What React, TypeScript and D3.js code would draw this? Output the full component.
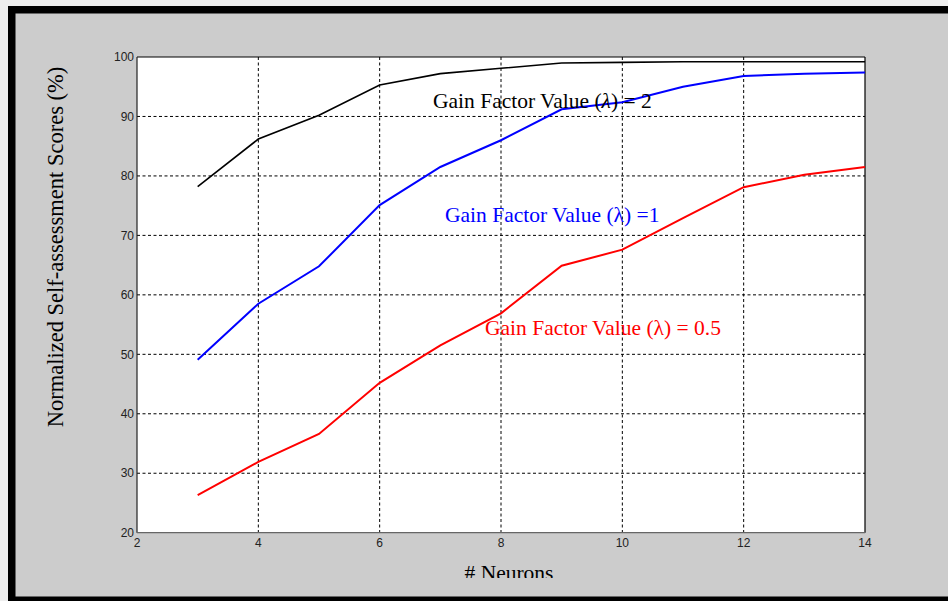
import * as d3 from 'd3';

const neurons = [3, 4, 5, 6, 7, 8, 9, 10, 11, 12, 13, 14];
const gain2 = [78.2, 86.2, 90.2, 95.3, 97.2, 98.1, 99.0, 99.1, 99.2, 99.2, 99.2, 99.2];
const gain1 = [49.1, 58.5, 64.8, 75.1, 81.5, 86.0, 91.2, 92.4, 95.0, 96.8, 97.2, 97.4];
const gain05 = [26.3, 31.9, 36.6, 45.2, 51.5, 56.9, 64.9, 67.6, 72.9, 78.1, 80.2, 81.5];
const xTicks = [2, 4, 6, 8, 10, 12, 14];
const yTicks = [20, 30, 40, 50, 60, 70, 80, 90, 100];

const W = 948;
const H = 601;
const plot = { left: 137, right: 865, top: 57, bottom: 532.7 };
const serif = '"Liberation Serif", "Times New Roman", serif';
const sans = '"Liberation Sans", Arial, sans-serif';

export default function App() {
  const x = d3.scaleLinear().domain([2, 14]).range([plot.left, plot.right]);
  const y = d3.scaleLinear().domain([20, 100]).range([plot.bottom, plot.top]);
  const line = d3.line<number>().x((_, i) => x(neurons[i])).y(d => y(d));

  const series = [
    { values: gain2, color: '#000000', width: 1.6 },
    { values: gain1, color: '#0000ff', width: 2 },
    { values: gain05, color: '#ff0000', width: 2 },
  ];

  return (
    <>
      <style>{'body{margin:0}'}</style>
      <svg width={W} height={H} style={{ display: 'block' }}>
        <defs>
          <clipPath id="xlabClip">
            <rect x={0} y={0} width={W} height={578} />
          </clipPath>
        </defs>
        <rect x={0} y={0} width={W} height={H} fill="#eeeeee" />
        <rect x={8} y={6} width={W - 8} height={H - 6} fill="#000" />
        <rect x={15.5} y={13.5} width={W - 15.5} height={596.5 - 13.5} fill="#cccccc" />

        <rect x={plot.left} y={plot.top} width={plot.right - plot.left} height={plot.bottom - plot.top} fill="#fff" />

        {/* grid */}
        {xTicks.slice(1, -1).map(t => (
          <line key={'gx' + t} x1={x(t)} x2={x(t)} y1={plot.top} y2={plot.bottom}
            stroke="#000" strokeWidth={1} strokeDasharray="3,2.5" />
        ))}
        {yTicks.slice(1, -1).map(t => (
          <line key={'gy' + t} x1={plot.left} x2={plot.right} y1={y(t)} y2={y(t)}
            stroke="#000" strokeWidth={1} strokeDasharray="3,2.5" />
        ))}

        {/* box */}
        <line x1={plot.left} x2={plot.right} y1={plot.top} y2={plot.top} stroke="#000" strokeWidth={1.2} />
        <line x1={plot.right} x2={plot.right} y1={plot.top} y2={plot.bottom} stroke="#000" strokeWidth={1.2} />
        <line x1={plot.left} x2={plot.left} y1={plot.top} y2={plot.bottom} stroke="#222" strokeWidth={1.2} />
        <line x1={plot.left} x2={plot.right} y1={plot.bottom} y2={plot.bottom} stroke="#666" strokeWidth={1.2} />

        {series.map((s, i) => (
          <path key={i} d={line(s.values) ?? ''} fill="none" stroke={s.color} strokeWidth={s.width} />
        ))}

        {/* tick labels */}
        {yTicks.map(t => (
          <text key={'yl' + t} x={plot.left - 3} y={y(t)} dy="0.35em" textAnchor="end"
            fontFamily={sans} fontSize={12} fill="#222">{t}</text>
        ))}
        {xTicks.map(t => (
          <text key={'xl' + t} x={x(t)} y={547} textAnchor="middle"
            fontFamily={sans} fontSize={12} fill="#222">{t}</text>
        ))}

        {/* annotations */}
        <text x={433} y={108} fontFamily={serif} fontSize={21.5} fill="#000">
          Gain Factor Value (<tspan fontStyle="italic">λ</tspan>) = 2
        </text>
        <text x={445} y={222} fontFamily={serif} fontSize={21.5} fill="#0000ff">
          Gain Factor Value (λ) =1
        </text>
        <text x={485} y={335} fontFamily={serif} fontSize={21.5} fill="#ff0000">
          Gain Factor Value (λ) = 0.5
        </text>

        {/* axis titles */}
        <text x={509} y={580} textAnchor="middle" fontFamily={serif} fontSize={21.5} fill="#000"
          clipPath="url(#xlabClip)"># Neurons</text>
        <text transform="translate(63,247) rotate(-90)" textAnchor="middle" fontFamily={serif}
          fontSize={22.5} fill="#000">Normalized Self-assessment Scores (%)</text>
      </svg>
    </>
  );
}
